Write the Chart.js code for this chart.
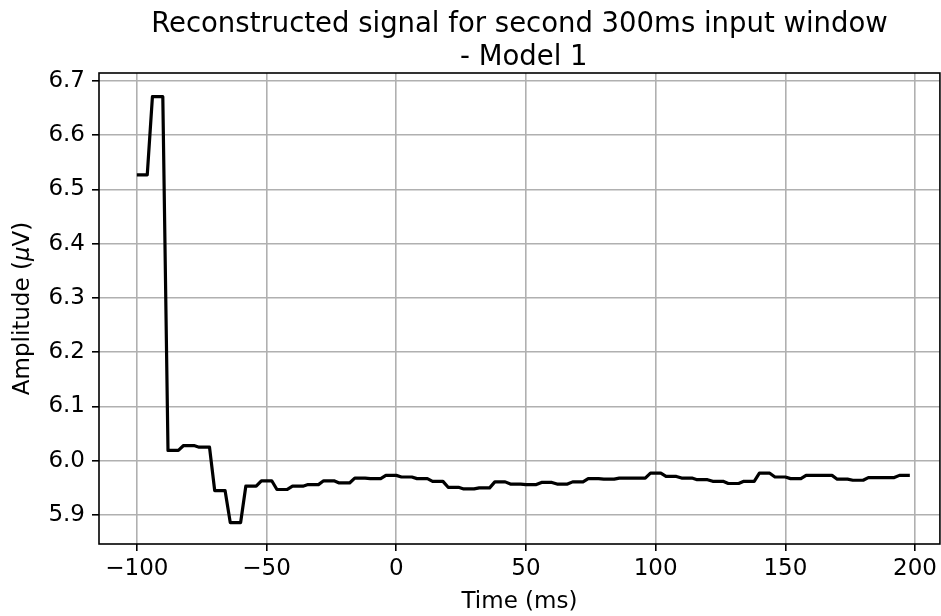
<!DOCTYPE html>
<html>
<head>
<meta charset="utf-8">
<title>Reconstructed signal - Model 1</title>
<script src="https://cdn.jsdelivr.net/npm/chart.js@4/dist/chart.umd.min.js"></script>
<style>
  html, body { margin: 0; padding: 0; background: #fff; }
  #wrap { width: 941px; height: 616px; position: relative; }
</style>
</head>
<body>
<div id="wrap"><canvas id="signalChart"></canvas></div>
<script>
// sample times (ms)
const timeMs = [
  -100, -98, -96, -94, -92, -90, -88, -86, -84, -82, -80, -78, -76, -74, -72,
  -70, -68, -66, -64, -62, -60, -58, -56, -54, -52, -50, -48, -46, -44, -42,
  -40, -38, -36, -34, -32, -30, -28, -26, -24, -22, -20, -18, -16, -14, -12,
  -10, -8, -6, -4, -2, 0, 2, 4, 6, 8, 10, 12, 14, 16, 18,
  20, 22, 24, 26, 28, 30, 32, 34, 36, 38, 40, 42, 44, 46, 48,
  50, 52, 54, 56, 58, 60, 62, 64, 66, 68, 70, 72, 74, 76, 78,
  80, 82, 84, 86, 88, 90, 92, 94, 96, 98, 100, 102, 104, 106, 108,
  110, 112, 114, 116, 118, 120, 122, 124, 126, 128, 130, 132, 134, 136, 138,
  140, 142, 144, 146, 148, 150, 152, 154, 156, 158, 160, 162, 164, 166, 168,
  170, 172, 174, 176, 178, 180, 182, 184, 186, 188, 190, 192, 194, 196, 198
];

// reconstructed amplitude (uV)
const amplitude = [
  6.527, 6.527, 6.527, 6.671, 6.671, 6.671, 6.019, 6.019, 6.019, 6.028, 6.028, 6.028, 6.025, 6.025, 6.025,
  5.945, 5.945, 5.945, 5.886, 5.886, 5.886, 5.953, 5.953, 5.953, 5.963, 5.963, 5.963, 5.947, 5.947, 5.947,
  5.953, 5.953, 5.953, 5.956, 5.956, 5.956, 5.963, 5.963, 5.963, 5.959, 5.959, 5.959, 5.968, 5.968, 5.968,
  5.967, 5.967, 5.967, 5.973, 5.973, 5.973, 5.970, 5.970, 5.970, 5.967, 5.967, 5.967, 5.962, 5.962, 5.962,
  5.951, 5.951, 5.951, 5.948, 5.948, 5.948, 5.950, 5.950, 5.950, 5.961, 5.961, 5.961, 5.957, 5.957, 5.957,
  5.956, 5.956, 5.956, 5.960, 5.960, 5.960, 5.957, 5.957, 5.957, 5.961, 5.961, 5.961, 5.967, 5.967, 5.967,
  5.966, 5.966, 5.966, 5.968, 5.968, 5.968, 5.968, 5.968, 5.968, 5.977, 5.977, 5.977, 5.971, 5.971, 5.971,
  5.968, 5.968, 5.968, 5.965, 5.965, 5.965, 5.962, 5.962, 5.962, 5.958, 5.958, 5.958, 5.962, 5.962, 5.962,
  5.977, 5.977, 5.977, 5.970, 5.970, 5.970, 5.967, 5.967, 5.967, 5.973, 5.973, 5.973, 5.973, 5.973, 5.973,
  5.966, 5.966, 5.966, 5.964, 5.964, 5.964, 5.969, 5.969, 5.969, 5.969, 5.969, 5.969, 5.973, 5.973, 5.973
];

const xTicks = [-100, -50, 0, 50, 100, 150, 200];
const yTicks = [5.9, 6.0, 6.1, 6.2, 6.3, 6.4, 6.5, 6.6, 6.7];

const titleLines = ['Reconstructed signal for second 300ms input window', ' - Model 1'];
const FONT = "'DejaVu Sans', sans-serif";
const LABEL_SIZE = 23;

// frame, title and axis labels drawn around the plot area
const decorations = {
  id: 'decorations',
  afterDraw(chart) {
    const { ctx, chartArea: a } = chart;
    const cx = (a.left + a.right) / 2;
    ctx.save();
    ctx.strokeStyle = '#000';
    ctx.lineWidth = 1.6;
    ctx.strokeRect(a.left, a.top, a.right - a.left, a.bottom - a.top);

    ctx.fillStyle = '#000';
    ctx.textAlign = 'center';
    ctx.textBaseline = 'alphabetic';
    ctx.font = '27.5px ' + FONT;
    ctx.fillText(titleLines[0], cx, 32);
    ctx.fillText(titleLines[1], cx, 65);

    ctx.font = LABEL_SIZE + 'px ' + FONT;
    ctx.fillText('Time (ms)', cx, 608);

    // y label with italic mu
    ctx.translate(29, (a.top + a.bottom) / 2);
    ctx.rotate(-Math.PI / 2);
    const plain = LABEL_SIZE + 'px ' + FONT;
    const parts = [['Amplitude (', plain], ['\u03bc', 'italic ' + plain], ['V)', plain]];
    let total = 0;
    parts.forEach(p => { ctx.font = p[1]; total += ctx.measureText(p[0]).width; });
    let x = -total / 2;
    ctx.textAlign = 'left';
    parts.forEach(p => {
      ctx.font = p[1];
      ctx.fillText(p[0], x, 0);
      x += ctx.measureText(p[0]).width;
    });
    ctx.restore();
  }
};

new Chart(document.getElementById('signalChart'), {
  type: 'line',
  data: {
    datasets: [{
      data: timeMs.map((t, i) => ({ x: t, y: amplitude[i] })),
      borderColor: '#000',
      borderWidth: 3.2,
      borderJoinStyle: 'round',
      borderCapStyle: 'butt',
      pointRadius: 0,
      tension: 0,
      fill: false
    }]
  },
  options: {
    responsive: true,
    maintainAspectRatio: false,
    animation: false,
    layout: { padding: { top: 73, right: 1, left: 0, bottom: 0 } },
    plugins: {
      legend: { display: false },
      tooltip: { enabled: false },
      title: { display: false }
    },
    scales: {
      x: {
        type: 'linear',
        min: -114.6,
        max: 209.6,
        afterBuildTicks: s => { s.ticks = xTicks.map(v => ({ value: v })); },
        afterFit: s => { s.height = 72; },
        grid: { color: '#b0b0b0', lineWidth: 1.6, tickLength: 7, tickColor: '#000', tickWidth: 1.6 },
        border: { display: false },
        ticks: {
          color: '#000',
          padding: 4,
          maxRotation: 0,
          font: { family: FONT, size: LABEL_SIZE },
          callback: v => (v < 0 ? '\u2212' + Math.abs(v) : String(v))
        }
      },
      y: {
        min: 5.8465,
        max: 6.7147,
        afterBuildTicks: s => { s.ticks = yTicks.map(v => ({ value: v })); },
        afterFit: s => { s.width = 99; },
        grid: { color: '#b0b0b0', lineWidth: 1.6, tickLength: 7, tickColor: '#000', tickWidth: 1.6 },
        border: { display: false },
        ticks: {
          color: '#000',
          padding: 7,
          font: { family: FONT, size: LABEL_SIZE },
          callback: v => v.toFixed(1)
        }
      }
    }
  },
  plugins: [decorations]
});
</script>
</body>
</html>
